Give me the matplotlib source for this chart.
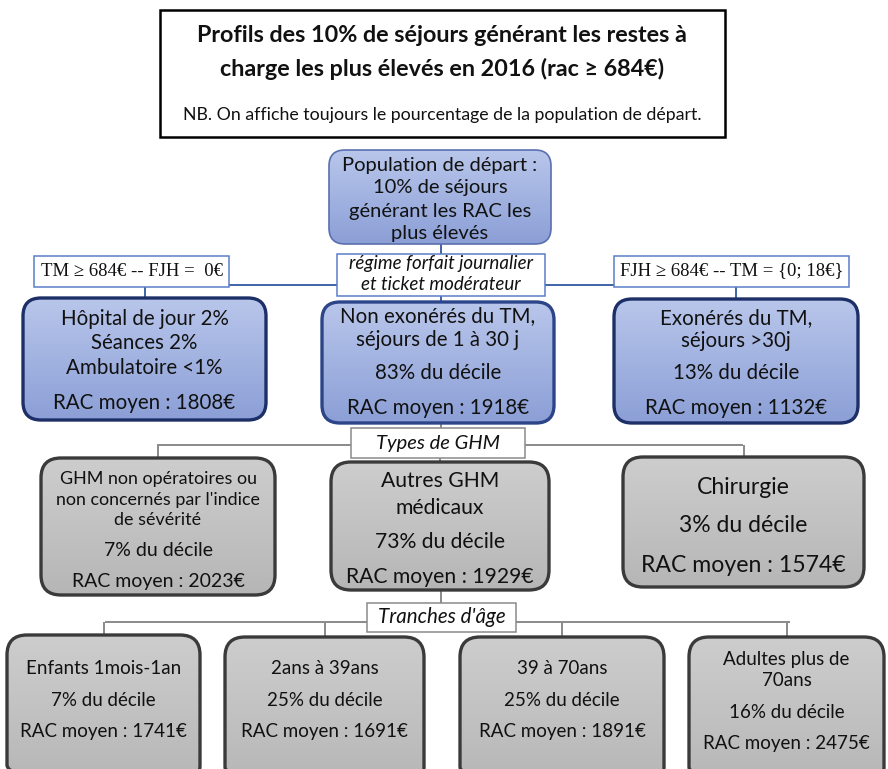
"""Flowchart: profils des 10% de séjours générant les RAC les plus élevés (2016)."""
import matplotlib
matplotlib.use("Agg")
import matplotlib.pyplot as plt
import numpy as np
from matplotlib.patches import FancyBboxPatch, Rectangle
from matplotlib.colors import LinearSegmentedColormap

FONT = ["Lato", "DejaVu Sans"]
SERIF = ["Liberation Serif", "DejaVu Serif"]

# ---- data -----------------------------------------------------------------
title_lines = ["Profils des 10% de séjours générant les restes à",
               "charge les plus élevés en 2016 (rac ≥ 684€)"]
note = "NB. On affiche toujours le pourcentage de la population de départ."
root_lines = ["Population de départ :", "10% de séjours",
              "générant les RAC les", "plus élevés"]

regime_split = ["régime forfait journalier", "et ticket modérateur"]
regime_rules = ["TM ≥ 684€ -- FJH =  0€", "FJH ≥ 684€ -- TM = {0; 18€}"]
regime_names = [["Hôpital de jour 2%", "Séances 2%", "Ambulatoire <1%"],
                ["Non exonérés du TM,", "séjours de 1 à 30 j"],
                ["Exonérés du TM,", "séjours >30j"]]
regime_pct = [None, 83, 13]
regime_rac = [1808, 1918, 1132]

ghm_split = "Types de GHM"
ghm_names = [["GHM non opératoires ou", "non concernés par l'indice", "de sévérité"],
             ["Autres GHM", "médicaux"],
             ["Chirurgie"]]
ghm_pct = [7, 73, 3]
ghm_rac = [2023, 1929, 1574]

age_split = "Tranches d'âge"
age_names = [["Enfants 1mois-1an"], ["2ans à 39ans"], ["39 à 70ans"],
             ["Adultes plus de", "70ans"]]
age_pct = [7, 25, 25, 16]
age_rac = [1741, 1691, 1891, 2475]

# ---- styles ---------------------------------------------------------------
BLUE_GRAD = LinearSegmentedColormap.from_list("b", ["#b9c6eb", "#a2b3e1", "#8c9fd6"])
GREY_GRAD = LinearSegmentedColormap.from_list("g", ["#cdcdcd", "#c2c2c2", "#b6b6b6"])
BLUE_LINE = "#3f63a8"
GREY_LINE = "#8a8a8a"
TXT = "#111111"

fig = plt.figure(figsize=(8.88, 7.69), dpi=100)
ax = fig.add_axes([0, 0, 1, 1])
ax.set_xlim(0, 888)
ax.set_ylim(769, 0)
ax.axis("off")


def rbox(x, y, w, h, cmap, edge, lw, r):
    p = FancyBboxPatch((x, y), w, h, boxstyle=f"round,pad=0,rounding_size={r}",
                       facecolor="none", edgecolor=edge, linewidth=lw, zorder=3)
    ax.add_patch(p)
    grad = np.linspace(0, 1, 64).reshape(-1, 1)
    im = ax.imshow(grad, cmap=cmap, aspect="auto", extent=(x, x + w, y + h, y),
                   origin="upper", zorder=2)
    im.set_clip_path(p)


def label_box(x, y, w, h, lines, ys, edge, size, style="normal", family=FONT):
    ax.add_patch(Rectangle((x, y), w, h, facecolor="white", edgecolor=edge,
                           linewidth=1.1, zorder=3))
    for t, yy in zip(lines, ys):
        ax.text(x + w / 2, yy, t, ha="center", va="center", fontsize=size,
                style=style, family=family, color=TXT, zorder=4)


def lines_at(cx, ys, lines, size):
    for t, yy in zip(lines, ys):
        ax.text(cx, yy, t, ha="center", va="center", fontsize=size,
                family=FONT, color=TXT, zorder=4)


def seg(xs, ys, color):
    ax.plot(xs, ys, color=color, lw=1.4, zorder=1, solid_capstyle="butt")


# ---- title -----------------------------------------------------------------
ax.add_patch(Rectangle((160, 10), 565, 127, facecolor="white", edgecolor="black",
                       linewidth=1.8, zorder=3))
ax.text(442, 35, title_lines[0], ha="center", va="center", fontsize=16.8,
        weight="bold", family=FONT, color=TXT, zorder=4)
ax.text(442, 69, title_lines[1], ha="center", va="center", fontsize=16.8,
        weight="bold", family=FONT, color=TXT, zorder=4)
ax.text(442, 115, note, ha="center", va="center", fontsize=12.8,
        family=FONT, color=TXT, zorder=4)

# ---- root ------------------------------------------------------------------
rbox(329, 150, 222, 94, BLUE_GRAD, "#5a6fae", 1.2, 16)
lines_at(440, [166, 188, 212, 233], root_lines, 14.5)

# ---- level 1 : regime ------------------------------------------------------
seg([441, 441], [244, 256], BLUE_LINE)
seg([229, 614], [285, 285], BLUE_LINE)
seg([145, 145], [287, 299], BLUE_LINE)
seg([736, 736], [287, 299], BLUE_LINE)
seg([441, 441], [296, 302], BLUE_LINE)
label_box(337, 254, 208, 42, regime_split, [264, 285], "#5b7fc7", 13.5,
          style="italic")
label_box(34, 256, 195, 31, [regime_rules[0]], [271], "#5b7fc7", 13.5, family=SERIF)
label_box(614, 256, 235, 31, [regime_rules[1]], [271], "#5b7fc7", 13.5, family=SERIF)

reg_boxes = [(23, 298, 243, 122), (322, 302, 232, 121), (614, 299, 244, 124)]
reg_name_ys = [[319, 343, 368], [316, 340], [318, 341]]
reg_pct_y = [None, 373, 373]
reg_rac_y = [403, 408, 408]
reg_edges = ["#1c2f66", "#2c4589", "#1c2f66"]
for i, (x, y, w, h) in enumerate(reg_boxes):
    rbox(x, y, w, h, BLUE_GRAD, reg_edges[i], 2.4, 18)
    cx = x + w / 2
    lines_at(cx, reg_name_ys[i], regime_names[i], 14.8)
    if regime_pct[i] is not None:
        lines_at(cx, [reg_pct_y[i]], [f"{regime_pct[i]}% du décile"], 14.8)
    lines_at(cx, [reg_rac_y[i]], [f"RAC moyen : {regime_rac[i]}€"], 14.8)

# ---- level 2 : GHM ---------------------------------------------------------
ghm_boxes = [(41, 458, 234, 137), (331, 462, 218, 128), (623, 457, 241, 130)]
seg([441, 441], [423, 428], GREY_LINE)
seg([157, 743], [445, 445], GREY_LINE)
for x, y, w, h in ghm_boxes:
    seg([x + w / 2, x + w / 2], [445, y + 2], GREY_LINE)
label_box(351, 428, 174, 30, [ghm_split], [443], GREY_LINE, 14.5, style="italic")

ghm_name_ys = [[479, 500, 520], [481, 508], [488]]
ghm_pct_y = [550, 542, 525]
ghm_rac_y = [582, 577, 565]
ghm_name_size = [12.9, 15.2, 16.6]
ghm_val_size = [14, 15.2, 16.6]
for i, (x, y, w, h) in enumerate(ghm_boxes):
    rbox(x, y, w, h, GREY_GRAD, "#3a3a3a", 2.4, 20)
    cx = x + w / 2
    lines_at(cx, ghm_name_ys[i], ghm_names[i], ghm_name_size[i])
    lines_at(cx, [ghm_pct_y[i]], [f"{ghm_pct[i]}% du décile"], ghm_val_size[i])
    lines_at(cx, [ghm_rac_y[i]], [f"RAC moyen : {ghm_rac[i]}€"], ghm_val_size[i])

# ---- level 3 : age ---------------------------------------------------------
age_boxes = [(7, 635, 193, 150), (225, 637, 199, 150), (460, 637, 204, 150),
             (689, 637, 195, 150)]
seg([441, 441], [590, 603], GREY_LINE)
seg([105, 790], [622, 622], GREY_LINE)
for x, y, w, h in age_boxes:
    seg([x + w / 2, x + w / 2], [622, y + 2], GREY_LINE)
label_box(367, 603, 149, 29, [age_split], [617], GREY_LINE, 14.8, style="italic")

age_name_ys = [[668], [668], [668], [660, 681]]
age_pct_y = [700, 700, 700, 713]
age_rac_y = [732, 732, 732, 743]
for i, (x, y, w, h) in enumerate(age_boxes):
    rbox(x, y, w, h, GREY_GRAD, "#3a3a3a", 2.4, 20)
    cx = x + w / 2
    lines_at(cx, age_name_ys[i], age_names[i], 13.5)
    lines_at(cx, [age_pct_y[i]], [f"{age_pct[i]}% du décile"], 13.5)
    lines_at(cx, [age_rac_y[i]], [f"RAC moyen : {age_rac[i]}€"], 13.5)

fig.savefig("out.png", dpi=100)
